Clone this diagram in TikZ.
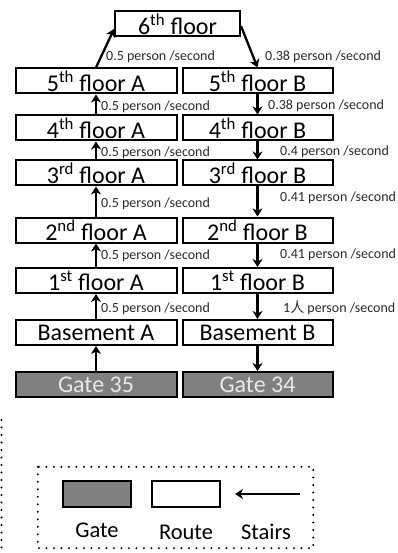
\documentclass[tikz,border=0pt]{standalone}
\usepackage{fontspec}
\setmainfont{Carlito}
\newfontfamily\cjk{Noto Sans CJK SC}
\usetikzlibrary{arrows.meta}
\definecolor{gatefill}{HTML}{808080}
\definecolor{gatetext}{HTML}{E8E8E8}
\definecolor{labtext}{HTML}{2A2A2A}
\begin{document}
\begin{tikzpicture}[x=1pt,y=-1pt,
  floorbox/.style={draw=black,line width=2pt,fill=white,minimum height=25pt,inner sep=0pt,font=\fontsize{24}{24}\selectfont},
  abox/.style={floorbox,minimum width=161pt},
  bbox/.style={floorbox,minimum width=150pt},
  gatebox/.style={floorbox,fill=gatefill,text=gatetext},
  rate/.style={anchor=west,inner sep=0pt,text=labtext,font=\fontsize{14}{14}\selectfont},
  stair/.style={line width=2.3pt,-{Stealth[length=8pt,width=10pt,inset=2.5pt]}},
  dotline/.style={line width=2.2pt,dash pattern=on 0pt off 7.5pt,line cap=round},
  legtext/.style={inner sep=0pt,font=\fontsize{22.5}{22.5}\selectfont}
]
\useasboundingbox (0,0) rectangle (398,553);
\fill[white] (0,0) rectangle (398,553);

% floors
\node[floorbox,minimum width=125pt] (f6) at (177.5,24) {6\textsuperscript{th} floor};
\node[abox] (a5) at (96,81) {5\textsuperscript{th} floor A};
\node[bbox] (b5) at (257.5,81) {5\textsuperscript{th} floor B};
\node[abox] (a4) at (96,128) {4\textsuperscript{th} floor A};
\node[bbox] (b4) at (257.5,128) {4\textsuperscript{th} floor B};
\node[abox] (a3) at (96,173) {3\textsuperscript{rd} floor A};
\node[bbox] (b3) at (257.5,173) {3\textsuperscript{rd} floor B};
\node[abox] (a2) at (96,230) {2\textsuperscript{nd} floor A};
\node[bbox] (b2) at (257.5,230) {2\textsuperscript{nd} floor B};
\node[abox] (a1) at (96,280.5) {1\textsuperscript{st} floor A};
\node[bbox] (b1) at (257.5,280.5) {1\textsuperscript{st} floor B};
\node[abox] (a0) at (96,332.5) {Basement A};
\node[bbox] (b0) at (257.5,332.5) {Basement B};
\node[gatebox,minimum width=161pt] (g35) at (96,384.5) {Gate 35};
\node[gatebox,minimum width=150pt] (g34) at (257.5,384.5) {Gate 34};

% stairs A (up)
\draw[stair] (g35.north) -- (a0.south);
\draw[stair] (a0.north) -- (a1.south);
\draw[stair] (a1.north) -- (a2.south);
\draw[stair] (a2.north) -- (a3.south);
\draw[stair] (a3.north) -- (a4.south);
\draw[stair] (a4.north) -- (a5.south);
\draw[stair] (a5.north) -- ([yshift=-5pt]f6.west);
% stairs B (down)
\draw[stair] ([yshift=-2pt]f6.east) -- (b5.north);
\draw[stair] (b5.south) -- (b4.north);
\draw[stair] (b4.south) -- (b3.north);
\draw[stair] (b3.south) -- (b2.north);
\draw[stair] (b2.south) -- (b1.north);
\draw[stair] (b1.south) -- (b0.north);
\draw[stair] (b0.south) -- (g34.north);

% rates
\node[rate] (r6a) at (106,57) {0.5 person /second};
\node[rate] (r6b) at (265,57) {0.38 person /second};
\node[rate] (r5a) at (101,107) {0.5 person /second};
\node[rate] (r5b) at (268,106) {0.38 person /second};
\node[rate] (r4a) at (101,153) {0.5 person /second};
\node[rate] (r4b) at (280,152) {0.4 person /second};
\node[rate] (r3a) at (101,204) {0.5 person /second};
\node[rate] (r3b) at (280,198) {0.41 person /second};
\node[rate] (r2a) at (101,256) {0.5 person /second};
\node[rate] (r2b) at (280,255) {0.41 person /second};
\node[rate] (r1a) at (101,309) {0.5 person /second};
\node[rate] (r1b) at (283,308) {1{\cjk 人} person /second};

% left dotted line
\coordinate (dl1) at (1.5,420);
\coordinate (dl2) at (1.5,553);
\draw[dotline] (dl1) -- (dl2);

% legend
\node[draw=none,minimum width=275pt,minimum height=81pt,inner sep=0pt] (leg) at (175.5,507.5) {};
\draw[dotline] (leg.north west) rectangle (leg.south east);
\node[gatebox,minimum width=68pt,minimum height=26pt] (lgate) at (97,494) {};
\node[floorbox,minimum width=68pt,minimum height=26pt] (lroute) at (186,494) {};
\coordinate (sa1) at (300,494);
\coordinate (sa2) at (235,494);
\draw[stair] (sa1) -- (sa2);
\node[legtext] (tgate) at (97,530) {Gate};
\node[legtext] (troute) at (186,532) {Route};
\node[legtext] (tstairs) at (266,532) {Stairs};
\end{tikzpicture}
\end{document}
